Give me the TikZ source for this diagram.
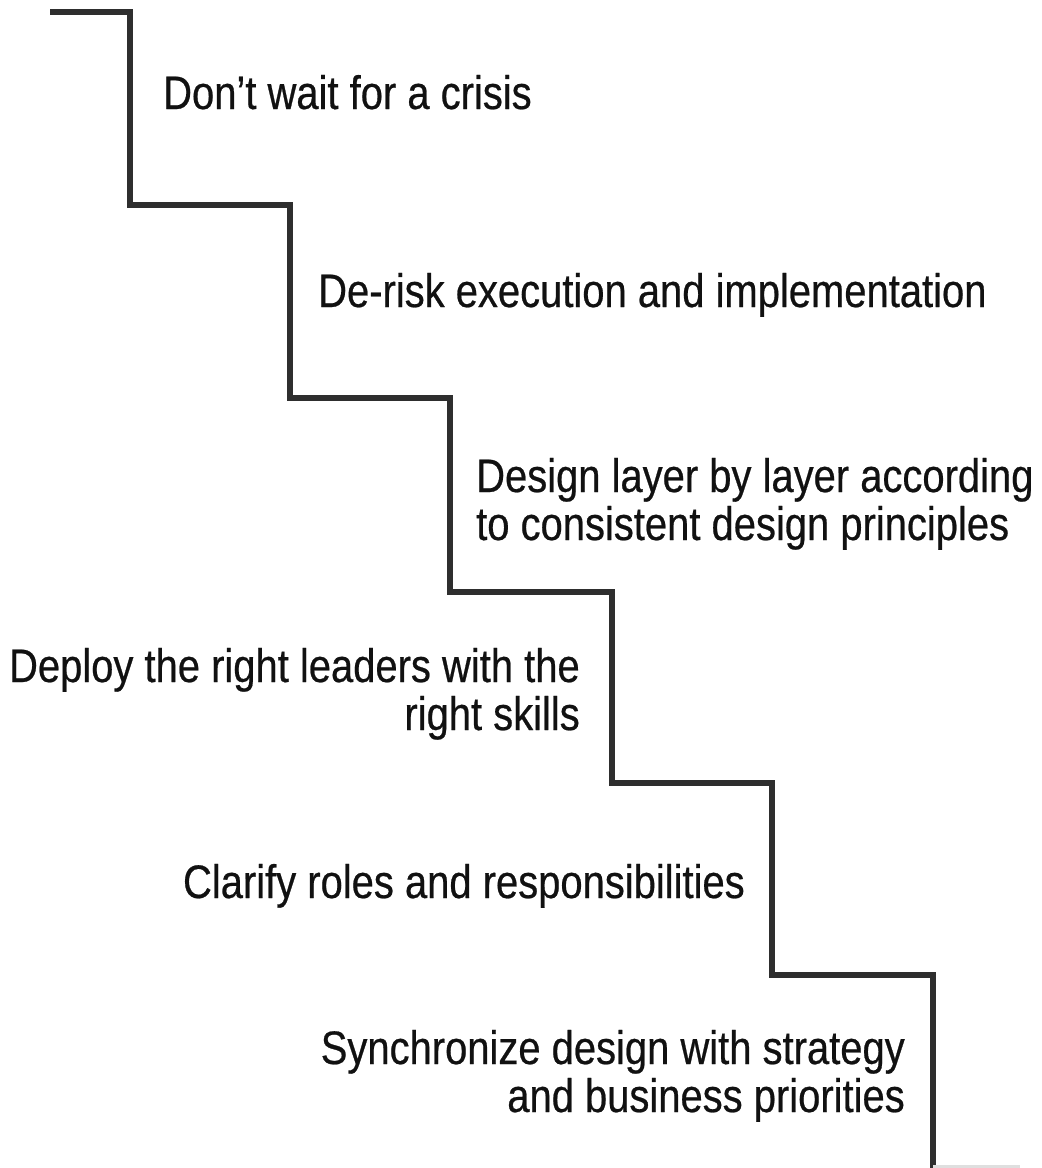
\documentclass[tikz,border=0pt]{standalone}
\usepackage{fontspec}
\setmainfont{Liberation Sans}[FakeStretch=0.85,FakeBold=0.5]
\usepackage{tikz}
\usepackage{xcolor}
\definecolor{Stair}{HTML}{2E2E2E}
\definecolor{Ink}{HTML}{111111}

\begin{document}
\begin{tikzpicture}[x=1pt,y=-1pt,
    stair/.style={Stair,line width=5.5pt,line join=miter},
    lbl/.style={Ink,inner sep=0pt,font=\fontsize{47}{48}\selectfont}]
  \useasboundingbox (0,0) rectangle (1042,1168);
  \draw[stair] (50,12) -| (130,205) -| (290,398) -| (450,592) -| (612,783) -| (772,975) -| (933,1168);
  \draw[gray!25,line width=3pt] (933,1166) -- (1020,1166);
  % multi-line labels sit on the baseline of their last line
  \node[lbl,anchor=base west] (crisis) at (163,109) {Don’t wait for a crisis};
  \node[lbl,anchor=base west] (derisk) at (318,307) {De-risk execution and implementation};
  \node[lbl,anchor=base west,align=left] (layer) at (476,540) {Design layer by layer according\\to consistent design principles};
  \node[lbl,anchor=base east,align=right] (leaders) at (580,730) {Deploy the right leaders with the\\right skills};
  \node[lbl,anchor=base east] (roles) at (745,898) {Clarify roles and responsibilities};
  \node[lbl,anchor=base east,align=right] (sync) at (905,1112) {Synchronize design with strategy\\and business priorities};
\end{tikzpicture}
\end{document}
